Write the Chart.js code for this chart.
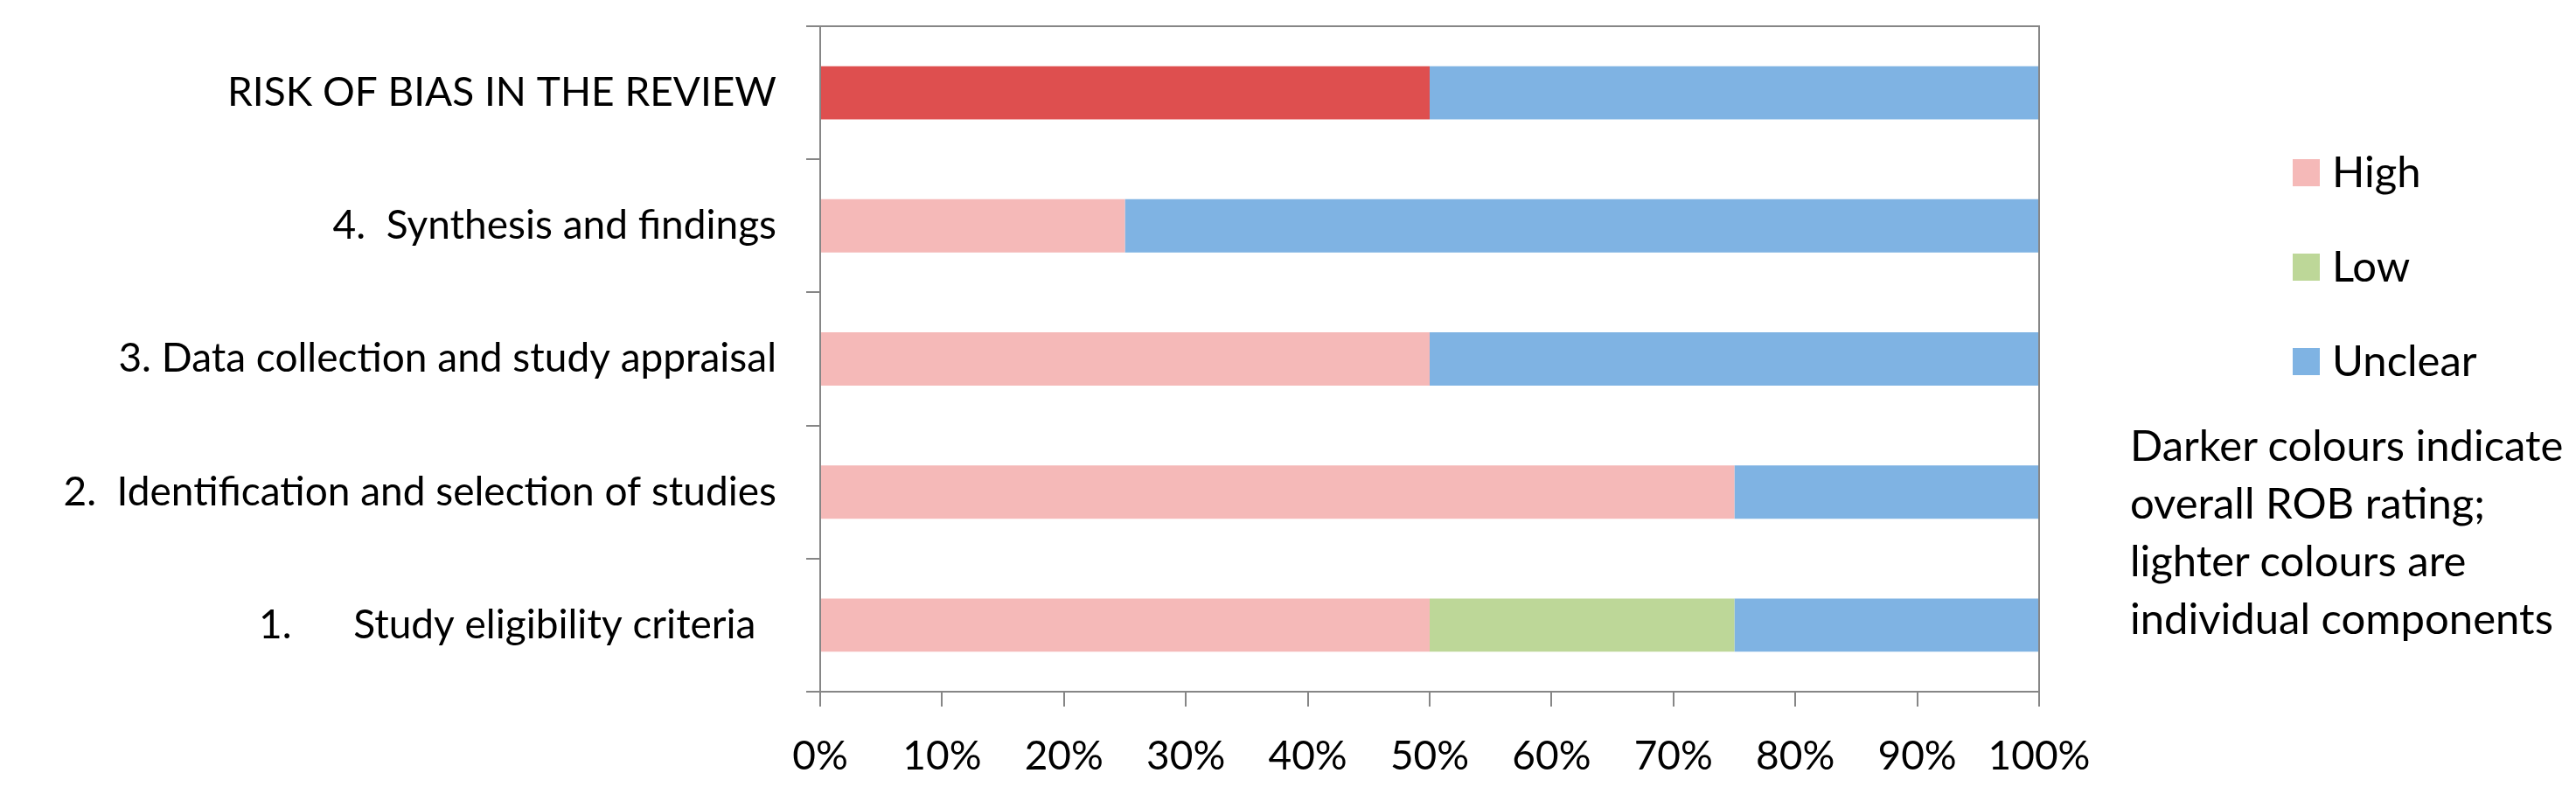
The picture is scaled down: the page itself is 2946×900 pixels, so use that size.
<!DOCTYPE html>
<html>
<head>
<meta charset="utf-8">
<script src="https://cdn.jsdelivr.net/npm/chart.js@4"></script>
<style>
    body { margin: 0; background: #fff; }
    #wrap { position: relative; width: 2946px; height: 900px; }
    #legend { position: absolute; left: 2622px; top: 182px; font-family: Lato, sans-serif; font-size: 49px; color: #000; }
    .legend-item { display: flex; align-items: center; height: 31px; margin-bottom: 77px; }
    .legend-box { width: 31px; height: 31px; margin-right: 14px; }
    .legend-text { line-height: 31px; position: relative; top: -2px; }
    #note { position: absolute; left: 2436px; top: 475px; font-family: Lato, sans-serif; font-size: 49px; line-height: 66px; color: #000; white-space: nowrap; }
</style>
</head>
<body>
<div id="wrap">
    <canvas id="robChart"></canvas>
    <div id="legend"></div>
    <div id="note">Darker colours indicate<br>overall ROB rating;<br>lighter colours are<br>individual components</div>
</div>
<script>
    const categories = [
        'RISK OF BIAS IN THE REVIEW',
        '4.  Synthesis and findings',
        '3. Data collection and study appraisal',
        '2.  Identification and selection of studies',
        '1.      Study eligibility criteria  '
    ];
    const highValues = [50, 25, 50, 75, 50];
    const lowValues = [0, 0, 0, 0, 25];
    const unclearValues = [50, 75, 50, 25, 25];
    const xTicks = [0, 10, 20, 30, 40, 50, 60, 70, 80, 90, 100];

    const axisGrey = '#868686';
    const highLight = '#F5B9B8';
    const highDark = '#DE4F4F';

    // plot area box (top and right edges)
    const plotBorder = {
        id: 'plotBorder',
        afterDraw(chart) {
            const {ctx, chartArea} = chart;
            ctx.save();
            ctx.strokeStyle = axisGrey;
            ctx.lineWidth = 2;
            ctx.strokeRect(chartArea.left, chartArea.top, chartArea.right - chartArea.left, chartArea.bottom - chartArea.top);
            ctx.restore();
        }
    };

    Chart.defaults.font.family = 'Lato, sans-serif';
    Chart.defaults.color = '#000';

    const context = document.getElementById('robChart').getContext('2d');
    const robChart = new Chart(context, {
        type: 'bar',
        data: {
            labels: categories,
            datasets: [
                {
                    label: 'High',
                    data: highValues,
                    backgroundColor: highValues.map((v, i) => i === 0 ? highDark : highLight),
                    legendColor: highLight
                },
                {
                    label: 'Low',
                    data: lowValues,
                    backgroundColor: '#BDD798',
                    legendColor: '#BDD798'
                },
                {
                    label: 'Unclear',
                    data: unclearValues,
                    backgroundColor: '#7FB3E3',
                    legendColor: '#7FB3E3'
                }
            ]
        },
        options: {
            indexAxis: 'y',
            responsive: true,
            maintainAspectRatio: false,
            animation: false,
            barPercentage: 0.4,
            categoryPercentage: 1.0,
            layout: {padding: {top: 30, right: 614, bottom: 0, left: 0}},
            plugins: {
                legend: {display: false},
                tooltip: {enabled: false}
            },
            scales: {
                x: {
                    stacked: true,
                    min: 0,
                    max: 100,
                    afterFit: scale => { scale.height = 109; },
                    afterBuildTicks: scale => { scale.ticks = xTicks.map(v => ({value: v})); },
                    grid: {drawOnChartArea: false, tickLength: 17, color: axisGrey, lineWidth: 2},
                    border: {color: axisGrey, width: 2},
                    ticks: {
                        padding: 30,
                        font: {size: 46},
                        callback: value => value + '%'
                    }
                },
                y: {
                    stacked: true,
                    afterFit: scale => {
                        scale.width = 938;
                        scale.paddingTop = 0;
                        scale.paddingBottom = 0;
                    },
                    grid: {drawOnChartArea: false, offset: true, tickLength: 16, color: axisGrey, lineWidth: 2},
                    border: {color: axisGrey, width: 2},
                    ticks: {
                        padding: 34,
                        font: {size: 46}
                    }
                }
            }
        },
        plugins: [plotBorder]
    });

    let legendHtml = '';
    robChart.data.datasets.forEach(ds => {
        legendHtml += `
            <div class="legend-item">
                <div class="legend-box" style="background:${ds.legendColor}"></div>
                <span class="legend-text">${ds.label}</span>
            </div>`;
    });
    document.getElementById('legend').innerHTML = legendHtml;
</script>
</body>
</html>
